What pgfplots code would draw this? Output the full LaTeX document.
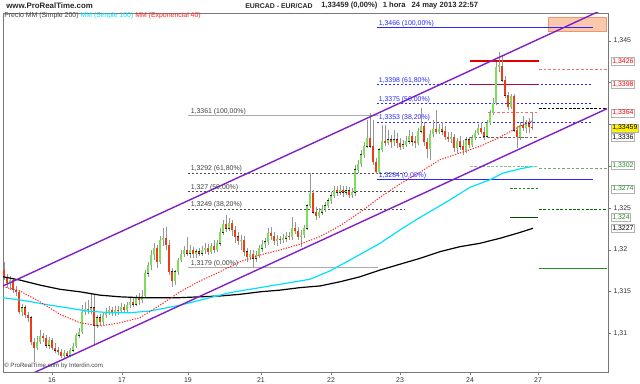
\documentclass[border=0pt]{standalone}
\usepackage{fontspec}
\setmainfont{Liberation Sans}
\usepackage{pgfplots}
\usepackage{pgfplotstable}
\pgfplotsset{compat=1.18}
\definecolor{upg}{RGB}{124,222,92}
\definecolor{dnr}{RGB}{238,60,20}
\definecolor{wick}{RGB}{150,150,150}
\definecolor{chan}{RGB}{128,32,200}
\definecolor{fibb}{RGB}{40,40,255}
\definecolor{ma100}{RGB}{0,225,255}
\definecolor{ma40}{RGB}{255,30,30}
\definecolor{frm}{RGB}{120,120,120}
\definecolor{dkgreen}{RGB}{0,110,0}
\definecolor{midgreen}{RGB}{40,140,40}
\definecolor{ltgreen}{RGB}{140,190,140}
\definecolor{ltred}{RGB}{240,110,110}
\definecolor{orfill}{RGB}{250,200,170}
\definecolor{ordraw}{RGB}{240,150,110}
\definecolor{lblgreen}{RGB}{40,140,40}

\pgfplotstableread{
x o h l c
10 1.3161 1.3169 1.3152 1.3164
22 1.3126 1.3135 1.3121 1.3131
37 1.3083 1.3097 1.3080 1.3090
40 1.3090 1.3104 1.3088 1.3097
49 1.3086 1.3096 1.3082 1.3092
64 1.3073 1.3080 1.3071 1.3077
70 1.3074 1.3083 1.3072 1.3080
73 1.3080 1.3089 1.3078 1.3085
76 1.3085 1.3101 1.3083 1.3098
79 1.3098 1.3107 1.3095 1.3102
82 1.3102 1.3134 1.3100 1.3126
85 1.3126 1.3138 1.3122 1.3129
91 1.3128 1.3149 1.3123 1.3131
97 1.3110 1.3122 1.3107 1.3119
103 1.3114 1.3126 1.3110 1.3122
106 1.3122 1.3131 1.3119 1.3126
109 1.3126 1.3133 1.3122 1.3128
115 1.3125 1.3133 1.3121 1.3128
121 1.3127 1.3137 1.3125 1.3132
127 1.3128 1.3138 1.3126 1.3134
130 1.3134 1.3143 1.3131 1.3138
136 1.3135 1.3146 1.3133 1.3143
142 1.3140 1.3152 1.3137 1.3145
145 1.3145 1.3176 1.3143 1.3172
148 1.3172 1.3186 1.3168 1.3182
151 1.3182 1.3200 1.3176 1.3194
154 1.3194 1.3208 1.3188 1.3202
160 1.3186 1.3217 1.3183 1.3212
163 1.3212 1.3226 1.3205 1.3214
175 1.3163 1.3176 1.3158 1.3174
178 1.3174 1.3190 1.3170 1.3188
181 1.3188 1.3200 1.3186 1.3195
184 1.3195 1.3205 1.3192 1.3200
190 1.3196 1.3206 1.3190 1.3200
196 1.3195 1.3201 1.3190 1.3198
202 1.3196 1.3205 1.3193 1.3200
205 1.3200 1.3208 1.3195 1.3202
211 1.3198 1.3208 1.3195 1.3205
217 1.3200 1.3212 1.3198 1.3208
220 1.3208 1.3226 1.3205 1.3221
223 1.3221 1.3236 1.3218 1.3231
229 1.3226 1.3238 1.3223 1.3232
241 1.3211 1.3218 1.3200 1.3212
250 1.3192 1.3200 1.3188 1.3195
256 1.3190 1.3199 1.3186 1.3194
259 1.3194 1.3206 1.3190 1.3202
262 1.3202 1.3212 1.3198 1.3207
265 1.3207 1.3214 1.3202 1.3210
268 1.3210 1.3226 1.3206 1.3220
277 1.3211 1.3218 1.3205 1.3213
283 1.3212 1.3219 1.3208 1.3214
286 1.3214 1.3221 1.3210 1.3217
292 1.3216 1.3239 1.3212 1.3226
301 1.3216 1.3224 1.3204 1.3218
304 1.3218 1.3230 1.3214 1.3226
307 1.3226 1.3255 1.3224 1.3253
310 1.3253 1.3292 1.3250 1.3268
319 1.3241 1.3250 1.3238 1.3245
322 1.3245 1.3254 1.3242 1.3249
325 1.3249 1.3257 1.3245 1.3253
328 1.3253 1.3262 1.3250 1.3259
331 1.3259 1.3269 1.3255 1.3265
334 1.3265 1.3277 1.3262 1.3272
340 1.3269 1.3278 1.3266 1.3272
346 1.3269 1.3277 1.3266 1.3271
352 1.3266 1.3274 1.3262 1.3269
355 1.3269 1.3302 1.3265 1.3296
358 1.3296 1.3308 1.3292 1.3303
361 1.3303 1.3320 1.3299 1.3314
364 1.3314 1.3329 1.3310 1.3324
367 1.3324 1.3355 1.3322 1.3334
379 1.3293 1.3322 1.3291 1.3320
382 1.3320 1.3349 1.3317 1.3330
388 1.3328 1.3343 1.3326 1.3332
394 1.3329 1.3343 1.3324 1.3332
403 1.3323 1.3332 1.3321 1.3326
406 1.3326 1.3336 1.3323 1.3330
409 1.3330 1.3343 1.3327 1.3336
418 1.3328 1.3346 1.3326 1.3342
421 1.3342 1.3370 1.3340 1.3348
430 1.3321 1.3343 1.3308 1.3339
433 1.3339 1.3355 1.3335 1.3345
439 1.3341 1.3351 1.3339 1.3345
451 1.3333 1.3341 1.3328 1.3335
457 1.3322 1.3334 1.3316 1.3330
466 1.3320 1.3335 1.3316 1.3332
472 1.3326 1.3337 1.3323 1.3334
475 1.3334 1.3343 1.3332 1.3340
478 1.3340 1.3351 1.3337 1.3346
487 1.3336 1.3355 1.3334 1.3352
490 1.3352 1.3367 1.3349 1.3364
493 1.3364 1.3382 1.3361 1.3376
496 1.3376 1.3425 1.3373 1.3419
499 1.3419 1.3437 1.3413 1.3421
511 1.3371 1.3387 1.3369 1.3384
520 1.3335 1.3353 1.3332 1.3349
526 1.3346 1.3355 1.3340 1.3351
}\upc

\pgfplotstableread{
x o h l c
4 1.3176 1.3186 1.3164 1.3168
7 1.3168 1.3171 1.3155 1.3161
13 1.3164 1.3167 1.3149 1.3152
16 1.3152 1.3157 1.3145 1.3150
19 1.3150 1.3152 1.3123 1.3126
25 1.3131 1.3134 1.3119 1.3122
28 1.3122 1.3126 1.3114 1.3119
31 1.3119 1.3121 1.3086 1.3090
34 1.3090 1.3095 1.3066 1.3083
43 1.3097 1.3101 1.3090 1.3095
46 1.3095 1.3098 1.3083 1.3086
52 1.3092 1.3095 1.3080 1.3083
55 1.3083 1.3089 1.3077 1.3080
58 1.3080 1.3084 1.3074 1.3078
61 1.3078 1.3082 1.3071 1.3073
67 1.3077 1.3079 1.3071 1.3074
88 1.3129 1.3140 1.3123 1.3128
94 1.3131 1.3146 1.3086 1.3110
100 1.3119 1.3123 1.3109 1.3114
112 1.3128 1.3132 1.3121 1.3125
118 1.3128 1.3133 1.3122 1.3127
124 1.3132 1.3135 1.3125 1.3128
133 1.3138 1.3143 1.3132 1.3135
139 1.3143 1.3149 1.3134 1.3140
157 1.3202 1.3206 1.3178 1.3186
166 1.3214 1.3227 1.3200 1.3206
169 1.3206 1.3212 1.3170 1.3174
172 1.3174 1.3178 1.3156 1.3163
187 1.3200 1.3216 1.3193 1.3196
193 1.3200 1.3204 1.3190 1.3195
199 1.3198 1.3202 1.3193 1.3196
208 1.3202 1.3207 1.3194 1.3198
214 1.3205 1.3212 1.3196 1.3200
226 1.3231 1.3242 1.3221 1.3226
232 1.3232 1.3236 1.3217 1.3224
235 1.3224 1.3229 1.3208 1.3216
238 1.3216 1.3221 1.3206 1.3211
244 1.3212 1.3217 1.3193 1.3198
247 1.3198 1.3202 1.3186 1.3192
253 1.3195 1.3200 1.3178 1.3190
271 1.3220 1.3227 1.3212 1.3217
274 1.3217 1.3221 1.3206 1.3211
280 1.3213 1.3217 1.3207 1.3212
289 1.3217 1.3221 1.3212 1.3216
295 1.3226 1.3233 1.3219 1.3223
298 1.3223 1.3227 1.3212 1.3216
313 1.3268 1.3272 1.3243 1.3245
316 1.3245 1.3251 1.3236 1.3241
337 1.3272 1.3277 1.3265 1.3269
343 1.3272 1.3277 1.3263 1.3269
349 1.3271 1.3275 1.3262 1.3266
370 1.3334 1.3364 1.3322 1.3324
373 1.3324 1.3355 1.3302 1.3305
376 1.3305 1.3310 1.3291 1.3293
385 1.3330 1.3349 1.3324 1.3328
391 1.3332 1.3337 1.3322 1.3329
397 1.3332 1.3340 1.3322 1.3328
400 1.3328 1.3334 1.3320 1.3323
412 1.3336 1.3341 1.3324 1.3330
415 1.3330 1.3336 1.3322 1.3328
424 1.3348 1.3353 1.3324 1.3329
427 1.3329 1.3334 1.3310 1.3321
436 1.3345 1.3367 1.3339 1.3341
442 1.3345 1.3353 1.3337 1.3342
445 1.3342 1.3348 1.3332 1.3335
448 1.3335 1.3341 1.3329 1.3333
454 1.3335 1.3339 1.3317 1.3322
460 1.3330 1.3336 1.3320 1.3324
463 1.3324 1.3332 1.3314 1.3320
469 1.3332 1.3335 1.3322 1.3326
481 1.3346 1.3353 1.3339 1.3341
484 1.3341 1.3347 1.3332 1.3336
502 1.3420 1.3433 1.3401 1.3403
505 1.3403 1.3408 1.3382 1.3385
508 1.3385 1.3389 1.3367 1.3371
514 1.3384 1.3387 1.3341 1.3343
517 1.3343 1.3348 1.3322 1.3335
523 1.3349 1.3360 1.3342 1.3346
529 1.3351 1.3358 1.3340 1.3347
532 1.3347 1.3364 1.3343 1.3346
}\dnc

\newcommand{\fs}{\fontsize{5.2}{6}\selectfont}
\newcommand{\hdA}{\fontsize{5.9}{7}\selectfont\bfseries}
\newcommand{\hdB}{\fontsize{5.2}{7}\selectfont\bfseries}
\newcommand{\hdC}{\fontsize{5.7}{7}\selectfont\bfseries}

\begin{document}
\begin{tikzpicture}
\begin{axis}[name=ax, scale only axis, width=453.75pt, height=269.25pt,
  xmin=3, xmax=608, ymin=1.30541, ymax=1.348345,
  clip mode=individual,
  axis line style={frm, line width=0.6pt},
  xtick={52,122,188,261,331,400,470,538},
  xticklabels={16,17,19,21,22,23,24,27},
  ytick={1.31,1.315,1.32,1.325,1.33,1.335,1.34,1.345},
  yticklabels={{1,31},{1,315},{1,32},{1,325},{},{},{},{1,345}},
  xtick pos=lower, ytick pos=upper, yticklabel pos=upper,
  tick align=outside, major tick length=2.2pt,
  tick style={frm, line width=0.5pt},
  ticklabel style={font=\fs, text=black!80},
  xticklabel style={yshift=1.5pt},
  yticklabel style={xshift=-1.5pt},
  error bars/error mark=none,
]
% orange box
\addplot[fill=orfill, draw=ordraw, line width=0.5pt] coordinates {(548,1.34787) (606,1.34787) (606,1.34619) (548,1.34619) (548,1.34787)} -- cycle;
% left fibonacci
\addplot[wick!80, line width=0.7pt] coordinates {(188,1.3361) (378,1.3361)};
\addplot[wick!80, line width=0.7pt] coordinates {(188,1.3179) (378,1.3179)};
\addplot[black!70, line width=0.55pt, dash pattern=on 1.5pt off 1.5pt] coordinates {(188,1.3292) (405,1.3292)};
\addplot[black!70, line width=0.55pt, dash pattern=on 1.5pt off 1.5pt] coordinates {(188,1.3270) (405,1.3270)};
\addplot[black!70, line width=0.55pt, dash pattern=on 1.5pt off 1.5pt] coordinates {(188,1.3249) (405,1.3249)};
% right fibonacci
\addplot[fibb, line width=0.9pt] coordinates {(377,1.3466) (593,1.3466)};
\addplot[fibb, line width=0.9pt] coordinates {(377,1.3284) (593,1.3284)};
\addplot[fibb, line width=0.55pt, dash pattern=on 1.5pt off 1.5pt] coordinates {(377,1.3398) (593,1.3398)};
\addplot[fibb, line width=0.55pt, dash pattern=on 1.5pt off 1.5pt] coordinates {(377,1.3375) (593,1.3375)};
\addplot[fibb, line width=0.55pt, dash pattern=on 1.5pt off 1.5pt] coordinates {(377,1.3353) (593,1.3353)};
% levels
\addplot[red!90!black, line width=0.9pt] coordinates {(470,1.3426) (539,1.3426)};
\addplot[ltred, line width=0.6pt, dash pattern=on 2pt off 1.5pt] coordinates {(539,1.34165) (607,1.34165)};
\addplot[red!90!black, line width=1pt, dash pattern=on 2pt off 1pt] coordinates {(470,1.3398) (538,1.3398)};
\addplot[black, line width=0.8pt, dash pattern=on 2pt off 1.2pt] coordinates {(539,1.3369) (607,1.3369)};
\addplot[ltred, line width=0.6pt, dash pattern=on 2pt off 1.5pt] coordinates {(488,1.3364) (538,1.3364)};
\addplot[black!60, line width=0.9pt, dash pattern=on 2pt off 1.2pt] coordinates {(470,1.3335) (538,1.3335)};
\addplot[ltgreen, line width=1pt, dash pattern=on 2pt off 1.2pt] coordinates {(470,1.3300) (538,1.3300)};
\addplot[midgreen!70, line width=0.6pt, dash pattern=on 2pt off 1.5pt] coordinates {(539,1.3297) (607,1.3297)};
\addplot[midgreen, line width=0.9pt, dash pattern=on 2pt off 1.2pt] coordinates {(510,1.3274) (538,1.3274)};
\addplot[dkgreen, line width=0.75pt, dash pattern=on 2pt off 1.2pt] coordinates {(539,1.3249) (607,1.3249)};
\addplot[dkgreen!70!black, line width=0.9pt] coordinates {(510,1.3239) (538,1.3239)};
\addplot[midgreen, line width=1pt] coordinates {(539,1.3178) (607,1.3178)};
% candles: wicks
\addplot[draw=none, mark=none, error bars/.cd, y dir=plus, y explicit,
  error bar style={draw=wick, line width=0.5pt}]
  table[x=x, y=l, y error expr=\thisrow{h}-\thisrow{l}] {\upc};
\addplot[draw=none, mark=none, error bars/.cd, y dir=plus, y explicit,
  error bar style={draw=wick, line width=0.5pt}]
  table[x=x, y=l, y error expr=\thisrow{h}-\thisrow{l}] {\dnc};
% bodies
\addplot[draw=none, mark=none, error bars/.cd, y dir=plus, y explicit,
  error bar style={draw=black!85, line width=2.1pt}]
  table[x=x, y expr=\thisrow{o}-0.00003, y error expr=\thisrow{c}-\thisrow{o}+0.00006] {\upc};
\addplot[draw=none, mark=none, error bars/.cd, y dir=plus, y explicit,
  error bar style={draw=upg, line width=1.4pt}]
  table[x=x, y=o, y error expr=\thisrow{c}-\thisrow{o}] {\upc};
\addplot[draw=none, mark=none, error bars/.cd, y dir=plus, y explicit,
  error bar style={draw=black!85, line width=2.1pt}]
  table[x=x, y expr=\thisrow{c}-0.00003, y error expr=\thisrow{o}-\thisrow{c}+0.00006] {\dnc};
\addplot[draw=none, mark=none, error bars/.cd, y dir=plus, y explicit,
  error bar style={draw=dnr, line width=1.4pt}]
  table[x=x, y=c, y error expr=\thisrow{o}-\thisrow{c}] {\dnc};
% moving averages
\addplot[black, line width=0.9pt] coordinates {
(3,1.3168) (20,1.3164) (40,1.3158) (60,1.3153) (80,1.3150) (100,1.3146)
(120,1.3144) (140,1.3143) (160,1.3143) (180,1.3143) (200,1.3144) (220,1.3145)
(240,1.3147) (260,1.3150) (280,1.3152) (300,1.3155) (320,1.3157) (340,1.3162)
(360,1.3168) (380,1.3176) (400,1.3183) (420,1.3190) (440,1.3198) (460,1.3204)
(480,1.3208) (500,1.3214) (520,1.3221) (533,1.3226)};
\addplot[ma100, line width=0.9pt] coordinates {
(3,1.3143) (27,1.3139) (50,1.3134) (67,1.3131) (87,1.3127) (110,1.3125)
(130,1.3125) (150,1.3127) (180,1.3134) (200,1.3140) (230,1.3149) (260,1.3155)
(290,1.3161) (310,1.3165) (330,1.3175) (350,1.3188) (380,1.3208) (400,1.3224)
(420,1.3239) (433,1.3248) (450,1.3260) (470,1.3275) (490,1.3284) (503,1.3292)
(520,1.3297) (533,1.3300)};
\addplot[ma40, line width=0.75pt, dash pattern=on 0.9pt off 1.1pt] coordinates {
(3,1.3156) (20,1.3151) (40,1.3138) (60,1.3123) (80,1.3113) (100,1.3109)
(120,1.3113) (140,1.3119) (160,1.3134) (180,1.3150) (200,1.3163) (220,1.3174)
(240,1.3186) (260,1.3194) (280,1.3200) (300,1.3207) (320,1.3216) (340,1.3229)
(360,1.3245) (380,1.3263) (400,1.3279) (420,1.3293) (440,1.3308) (460,1.3316)
(480,1.3324) (500,1.3335) (520,1.3348) (533,1.3355)};
% channel
\addplot[chan, line width=1.05pt] coordinates {(3,1.3157) (600,1.3486)};
\addplot[chan, line width=1.05pt] coordinates {(30,1.3051) (607,1.3369)};
% fib labels
\begin{scope}[every node/.style={font=\fs, inner sep=0.4pt, anchor=south west}]
\node[text=black!75] at (190,1.3361) {1,3361 (100,00\%)};
\node[text=black!75] at (190,1.3292) {1,3292 (61,80\%)};
\node[text=black!75] at (190,1.3270) {1,327 (50,00\%)};
\node[text=black!75] at (190,1.3249) {1,3249 (38,20\%)};
\node[text=black!75] at (190,1.3179) {1,3179 (0,00\%)};
\node[text=fibb] at (378,1.3466) {1,3466 (100,00\%)};
\node[text=fibb] at (378,1.3398) {1,3398 (61,80\%)};
\node[text=fibb] at (378,1.3375) {1,3375 (50,00\%)};
\node[text=fibb] at (378,1.3353) {1,3353 (38,20\%)};
\node[text=fibb] at (378,1.3284) {1,3284 (0,00\%)};
\end{scope}
% right price boxes
\begin{scope}[every node/.style={font=\fs, inner sep=0.8pt, anchor=west, draw=black!30, fill=white, line width=0.4pt}]
\node[text=red] at (611,1.3426) {1,3426};
\node[text=red] at (611,1.3398) {1,3398};
\node[text=red] at (611,1.3364) {1,3364};
\node[text=black] at (611,1.3335) {1,3336};
\node[text=black, fill=yellow] at (611,1.33459) {1,33459};
\node[text=lblgreen] at (611,1.3301) {1,3302};
\node[text=lblgreen] at (611,1.3273) {1,3274};
\node[text=lblgreen] at (611,1.3239) {1,324};
\node[text=black] at (611,1.3226) {1,3227};
\end{scope}
% header and legend
\node[anchor=west, font=\hdA, inner sep=0pt, text=black!85] at (6,1.34918) {www.ProRealTime.com};
\node[anchor=west, font=\hdB, inner sep=0pt, text=black!85] at (245,1.34918) {EURCAD - EUR/CAD};
\node[anchor=west, font=\hdC, inner sep=0pt, text=black!85] at (321,1.34918) {1,33459 (0,00\%)\hspace{4pt}1 hora\hspace{3pt} 24 may 2013 22:57};
\node[anchor=west, font=\fs, inner sep=0pt, text=black!75] at (4,1.34799) {Precio MM (Simple 200) \textcolor{ma100}{MM (Simple 100)} \textcolor{ma40}{MM (Exponencial 40)}};
\node[anchor=west, font=\fontsize{4.6}{5}\selectfont, inner sep=0pt, text=black!75] at (4,1.30612) {© ProRealTime.com by Interdin.com};
\end{axis}
\pgfresetboundingbox
\path[use as bounding box] ([shift={(-2.25pt,-9pt)}]ax.south west) rectangle ([shift={(24pt,9.75pt)}]ax.north east);
\end{tikzpicture}
\end{document}
